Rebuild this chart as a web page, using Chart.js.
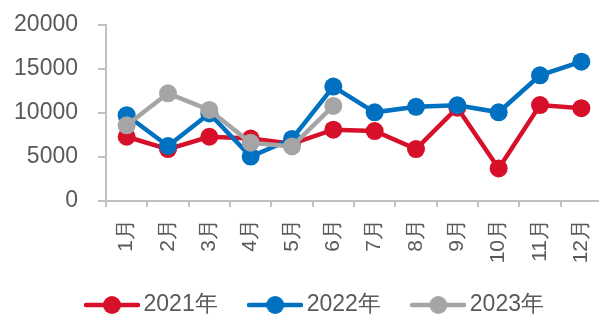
<!DOCTYPE html>
<html>
<head>
<meta charset="utf-8">
<script src="https://cdn.jsdelivr.net/npm/chart.js@4"></script>
<style>
  html, body { margin: 0; padding: 0; background: #fff; overflow: hidden; }
  #wrap { width: 611px; height: 318px; }
</style>
</head>
<body>
<div id="wrap"><canvas id="chart" width="611" height="318"></canvas></div>
<script>
const months = ['1月', '2月', '3月', '4月', '5月', '6月', '7月', '8月', '9月', '10月', '11月', '12月'];
const sales2021 = [7300, 5900, 7300, 7100, 6500, 8100, 7950, 5900, 10600, 3700, 10900, 10550];
const sales2022 = [9750, 6250, 9950, 5050, 7050, 13000, 10080, 10700, 10870, 10080, 14280, 15830];
const sales2023 = [8600, 12240, 10350, 6620, 6200, 10800];
const yTicks = [0, 5000, 10000, 15000, 20000];

const colors = ['#D7102A', '#0070C0', '#A5A5A5'];

// little line-with-dot marker for the legend
function legendMarker(color) {
    const c = document.createElement('canvas');
    c.width = 56;
    c.height = 20;
    const ctx = c.getContext('2d');
    ctx.strokeStyle = color;
    ctx.lineWidth = 4.5;
    ctx.lineCap = 'round';
    ctx.beginPath();
    ctx.moveTo(2, 10);
    ctx.lineTo(54, 10);
    ctx.stroke();
    ctx.fillStyle = color;
    ctx.beginPath();
    ctx.arc(28, 10, 9, 0, Math.PI * 2);
    ctx.fill();
    return c;
}

// nudge the legend into place, like the original
const legendShift = {
    id: 'legendShift',
    afterLayout(chart) {
        chart.legend.left += 6.5;
        chart.legend.right += 6.5;
        chart.legend.top -= 9;
        chart.legend.bottom -= 9;
    },
};

const makeSet = (label, data, color, order) => ({
    label: label,
    data: data,
    borderColor: color,
    backgroundColor: color,
    borderWidth: 4.5,
    pointRadius: 9,
    pointHoverRadius: 9,
    pointBorderWidth: 0,
    tension: 0,
    order: order,
});

const grey = '#595959';
const axisColor = '#BFBFBF';
const fontFamily = 'Liberation Sans, Arial, sans-serif';

new Chart(document.getElementById('chart').getContext('2d'), {
    type: 'line',
    data: {
        labels: months,
        datasets: [
            makeSet('2021年', sales2021, colors[0], 2),
            makeSet('2022年', sales2022, colors[1], 1),
            makeSet('2023年', sales2023, colors[2], 0),
        ],
    },
    plugins: [legendShift],
    options: {
        responsive: false,
        animation: false,
        layout: { padding: { left: 12, top: 25, right: 0, bottom: -17.5 } },
        plugins: {
            tooltip: { enabled: false },
            legend: {
                position: 'bottom',
                labels: {
                    usePointStyle: true,
                    pointStyleWidth: 40,
                    padding: 37.5,
                    color: grey,
                    font: { family: fontFamily, size: 23 },
                    sort: (a, b) => a.datasetIndex - b.datasetIndex,
                    generateLabels: (chart) => {
                        const items = Chart.defaults.plugins.legend.labels.generateLabels(chart);
                        items.forEach((it) => {
                            it.pointStyle = legendMarker(colors[it.datasetIndex]);
                        });
                        return items;
                    },
                },
            },
        },
        scales: {
            x: {
                offset: true,
                afterFit: (axis) => {
                    axis.paddingLeft = 0;
                    axis.paddingRight = 0;
                    axis.height = 64;
                },
                grid: {
                    display: true,
                    drawOnChartArea: false,
                    offset: true,
                    color: axisColor,
                    lineWidth: 2,
                    tickLength: 6,
                },
                border: { color: axisColor, width: 2 },
                ticks: {
                    color: grey,
                    minRotation: 90,
                    maxRotation: 90,
                    padding: 12,
                    font: { family: fontFamily, size: 21 },
                },
            },
            y: {
                min: yTicks[0],
                max: yTicks[yTicks.length - 1],
                afterBuildTicks: (axis) => {
                    axis.ticks = yTicks.map((v) => ({ value: v }));
                },
                afterFit: (axis) => {
                    axis.paddingTop = 0;
                    axis.paddingBottom = 0;
                    axis.width = 94;
                },
                grid: {
                    display: true,
                    drawOnChartArea: false,
                    color: axisColor,
                    lineWidth: 2,
                    tickLength: 8,
                },
                border: { color: axisColor, width: 2 },
                ticks: {
                    color: grey,
                    padding: 20,
                    font: { family: fontFamily, size: 23 },
                    callback: (v) => String(v),
                },
            },
        },
    },
});
</script>
</body>
</html>
